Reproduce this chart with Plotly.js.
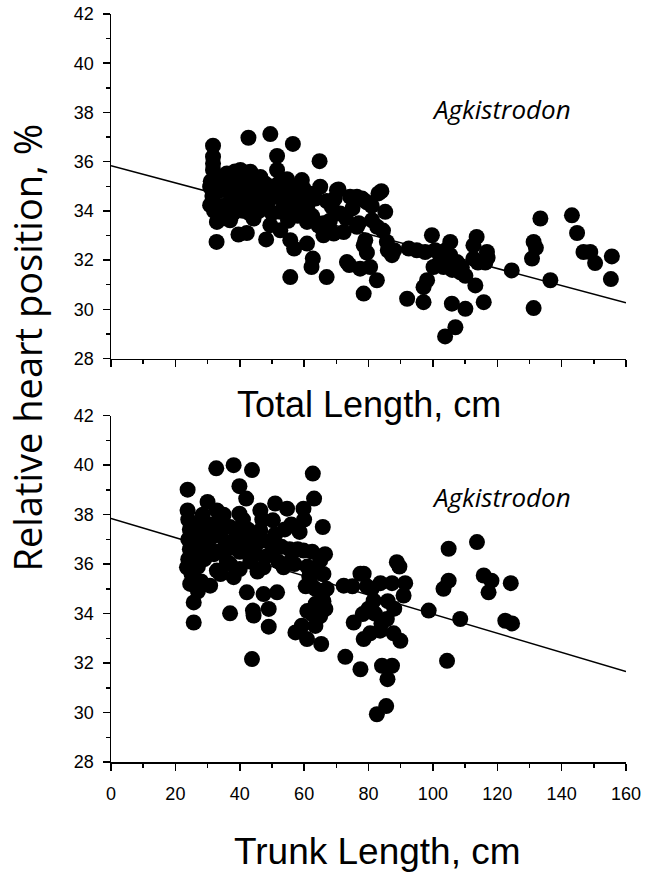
<!DOCTYPE html>
<html>
<head>
<meta charset="utf-8">
<script src="https://cdn.plot.ly/plotly-3.0.1.min.js"></script>
<style>html,body{margin:0;padding:0;background:#fff;}#chart{width:650px;height:880px;}</style>
</head>
<body>
<div id="chart"></div>
<script>
// Top panel: Total length (cm) vs relative heart position (%)
const totalLength = [31.7,31.7,31.7,31.7,42.7,49.5,56.5,64.8,51.6,51.6,54.7,36,40.2,43.3,46.4,49.5,59.3,65,70.7,74.3,78,30.8,32.8,39.6,42.2,48.2,55.7,67,62.3,62.7,60.9,56.9,55.7,52.6,49.5,78.5,73.3,74,77.4,66,69.2,72.3,76.4,78.5,79.5,32.9,37,44.3,33,30.8,40.7,45.4,49.5,53.6,55.5,59.8,62,70.2,68.6,71.2,76.4,79.5,59.8,56.7,52.6,60.9,66,83.1,85.2,78.5,81.1,82.7,79,85.7,87.3,80.5,82.6,92.5,92,99.7,97.6,100.7,100.2,98.2,97.1,97.1,105.4,105.4,103.3,107.5,108.5,105.9,110.1,107,103.8,113.6,112.6,116.8,112.6,116.3,113.2,115.8,110.1,124.5,131.3,132,130.8,133.4,131.3,136.5,143.2,144.8,146.8,148.9,150.4,155.6,155.3,31,31.5,32,33.5,34,34.5,35,36,37,37.5,38,38.5,39,40,41,41.5,42,43,43.5,44.5,45,46,47,48,49,50,51,52,53,54,55,56,57,58,59,61,62.5,63.5,64.5,67,68,69.5,73,75,77,81,84,84.5,86,88,95,102,104,106,109,114,117];
const heartTop = [36.65,36.2,35.93,35.66,36.97,37.12,36.72,36.02,36.23,35.66,35.29,35.52,35.66,35.59,35.38,34.98,35.25,34.98,34.87,34.57,34.5,34.98,32.74,33.04,33.1,32.84,31.31,31.31,31.72,32.06,32.67,32.47,32.81,33.21,33.42,30.64,31.92,31.8,31.65,33.01,33.08,33.14,33.35,32.6,32.3,33.55,33.62,33.69,34.0,34.23,34.23,34.3,34.91,34.37,35.0,34.91,34.7,34.84,34.16,33.89,34.57,34.35,34.16,34.03,33.96,33.55,33.5,34.71,33.96,34.44,33.62,33.35,32.81,32.74,32.2,31.72,31.18,32.47,30.43,33.01,32.33,32.4,31.72,31.18,30.9,30.29,32.74,32.2,31.72,31.92,31.5,30.23,30.02,29.27,28.9,32.94,32.6,32.33,32.06,31.9,30.97,30.29,31.36,31.58,32.74,32.5,32.06,33.69,30.05,31.18,33.82,33.1,32.33,32.33,31.88,32.15,31.23,35.2,34.6,34.0,34.8,35.3,34.2,33.7,34.9,34.4,35.0,33.9,35.6,34.6,35.1,34.0,35.4,34.6,33.9,35.0,34.5,35.3,34.0,34.7,35.1,34.4,33.9,34.6,35.1,34.0,34.8,33.6,34.5,35.0,33.8,34.5,34.2,33.8,34.5,33.4,34.4,33.6,34.5,33.7,34.1,33.5,34.2,34.8,33.2,32.4,32.4,32.4,31.9,32.4,31.6,31.7,31.9,32.1];

// Bottom panel: Trunk length (cm) vs relative heart position (%)
const trunkLength = [23.8,32.7,38.1,43.8,39.9,42,62.7,63.1,65.8,59.8,54.7,51,46.4,39.9,30,32.9,23.8,50.3,58.6,46.4,44.8,36,32.9,30.8,24.6,25.7,23.6,38.1,42.2,47.4,51.6,59.8,62.5,65,66,61.6,60.5,65.7,63.6,72.3,77.5,53.6,55.7,47.4,43.3,36,25.7,37,44.1,44.3,49,49,43.8,57.3,59.3,60.9,62.5,63.5,66.6,65.3,72.8,77.5,75.4,78.5,78.2,82.6,85.5,85.9,84.2,87.3,83.6,89.9,87.8,85.7,98.7,108.5,122.5,124.6,104.4,104.9,113.7,88.8,89.6,78.5,83.7,87.3,91.4,90.9,104.9,103.3,115.8,118.2,117.3,124.2,81.6,80,82,79.5,24,24.5,24,24.5,24,25,26,26.5,26,27,27.5,28,28.5,29,29,30,30.5,31.5,32,33.5,34,35,35.5,37,38,39,40,41,41.5,42.5,43.5,45,46,47,48,49,50,51,52,53,54,55.5,57,56,58,60,61,62,63.5,64.5,66.5,67,65,66,61,34,28,27,33,40,45.5,37,75,81,86,88,84,80.5];
const heartBottom = [39.01,39.87,40.0,39.8,39.15,38.65,39.66,38.65,37.5,38.24,38.24,38.45,38.17,38.04,38.51,38.17,38.17,37.77,37.3,37.36,37.0,36.62,35.74,35.13,35.2,34.45,35.87,35.47,34.86,34.79,34.86,36.55,36.5,36.15,35.6,35.5,35.1,34.8,34.4,35.13,35.61,35.87,36.1,35.87,36.1,36.1,33.64,34.01,34.12,33.92,34.19,33.47,32.16,33.24,33.51,32.97,33.98,33.5,34.19,32.77,32.25,31.75,33.64,32.97,33.98,29.93,30.26,31.35,31.89,31.89,33.31,32.9,33.2,33.78,34.12,33.78,33.71,33.6,32.09,36.62,36.89,36.08,35.9,35.61,35.23,35.23,35.23,34.73,35.33,35.0,35.54,35.33,34.86,35.23,34.52,34.2,34.0,35.1,37.8,37.4,37.0,36.6,36.2,35.6,37.6,36.9,36.3,35.9,37.2,36.6,38.0,37.5,36.2,36.8,37.6,37.1,36.4,37.8,37.3,38.0,36.9,37.5,36.9,37.3,36.5,37.8,36.9,37.4,36.5,36.4,36.9,37.8,36.3,36.9,36.4,37.2,36.1,36.7,37.4,36.6,36.0,37.6,36.6,37.8,35.9,35.2,35.0,35.7,36.4,35.0,33.9,34.5,34.1,35.6,35.3,34.9,36.5,35.8,35.7,36.0,35.1,35.0,34.5,34.2,33.6,33.2];

// Regression lines (end points)
const fitX = [0, 160];
const fitTop = [35.83, 30.27];
const fitBottom = [37.84, 31.66];

const xTickVals = [0,20,40,60,80,100,120,140,160];
const yTickVals = [28,30,32,34,36,38,40,42];
const genus = 'Agkistrodon';

const markerStyle = {color:'#000', size:16, line:{width:0}};
const traces = [
  {x: totalLength, y: heartTop, mode:'markers', type:'scatter', marker: markerStyle, xaxis:'x', yaxis:'y', cliponaxis:false},
  {x: fitX, y: fitTop, mode:'lines', type:'scatter', line:{color:'#000', width:1.5}, xaxis:'x', yaxis:'y'},
  {x: trunkLength, y: heartBottom, mode:'markers', type:'scatter', marker: markerStyle, xaxis:'x2', yaxis:'y2', cliponaxis:false},
  {x: fitX, y: fitBottom, mode:'lines', type:'scatter', line:{color:'#000', width:1.5}, xaxis:'x2', yaxis:'y2'}
];

const tickFont = {family:'Liberation Sans, Arial, sans-serif', size:18, color:'#000'};
function xAxis(showLabels, anchor){
  return {range:[0,160], tickvals:xTickVals, ticks:'outside', ticklen:7, tickwidth:1.5, tickcolor:'#000',
    minor:{dtick:10, ticks:'outside', ticklen:4, tickwidth:1.5, tickcolor:'#000'},
    showticklabels:showLabels, tickfont:tickFont, ticklabelstandoff:8,
    showline:true, linecolor:'#000', linewidth:1.5, showgrid:false, zeroline:false, anchor:anchor, fixedrange:true};
}
function yAxis(domain, anchor){
  return {range:[28,42], tickvals:yTickVals, ticks:'outside', ticklen:7, tickwidth:1.5, tickcolor:'#000',
    minor:{dtick:1, ticks:'outside', ticklen:4, tickwidth:1.5, tickcolor:'#000'},
    tickfont:tickFont, ticklabelstandoff:5, domain:domain,
    showline:true, linecolor:'#000', linewidth:1.5, showgrid:false, zeroline:false, anchor:anchor, fixedrange:true};
}

const layout = {
  width:650, height:880,
  margin:{l:111, r:24, t:14, b:118},
  paper_bgcolor:'#fff', plot_bgcolor:'#fff',
  showlegend:false,
  xaxis: xAxis(false, 'y'),
  yaxis: yAxis([0.5394, 1], 'x'),
  xaxis2: xAxis(true, 'y2'),
  yaxis2: yAxis([0, 0.463], 'x2'),
  annotations:[
    {text:'<i>'+genus+'</i>', x:121.4, y:38.15, xref:'x', yref:'y', showarrow:false, xanchor:'center', yanchor:'middle',
     font:{family:'Open Sans, Noto Sans, sans-serif', size:26, color:'#000'}},
    {text:'<i>'+genus+'</i>', x:121.4, y:38.7, xref:'x2', yref:'y2', showarrow:false, xanchor:'center', yanchor:'middle',
     font:{family:'Open Sans, Noto Sans, sans-serif', size:26, color:'#000'}},
    {text:'Total Length, cm', x:0.5, y:0.4773, xref:'paper', yref:'paper', showarrow:false, xanchor:'center', yanchor:'middle',
     font:{family:'Liberation Sans, Arial, sans-serif', size:36, color:'#000'}},
    {text:'Trunk Length, cm', x:0.517, y:-0.119, xref:'paper', yref:'paper', showarrow:false, xanchor:'center', yanchor:'middle',
     font:{family:'Liberation Sans, Arial, sans-serif', size:37, color:'#000'}},
    {text:'Relative heart position, %', x:-0.164, y:0.5535, xref:'paper', yref:'paper', showarrow:false, textangle:-90,
     xanchor:'center', yanchor:'middle', font:{family:'Open Sans, Noto Sans, sans-serif', size:38, color:'#000'}}
  ]
};

Plotly.newPlot('chart', traces, layout, {staticPlot:true, displayModeBar:false});
</script>
</body>
</html>
